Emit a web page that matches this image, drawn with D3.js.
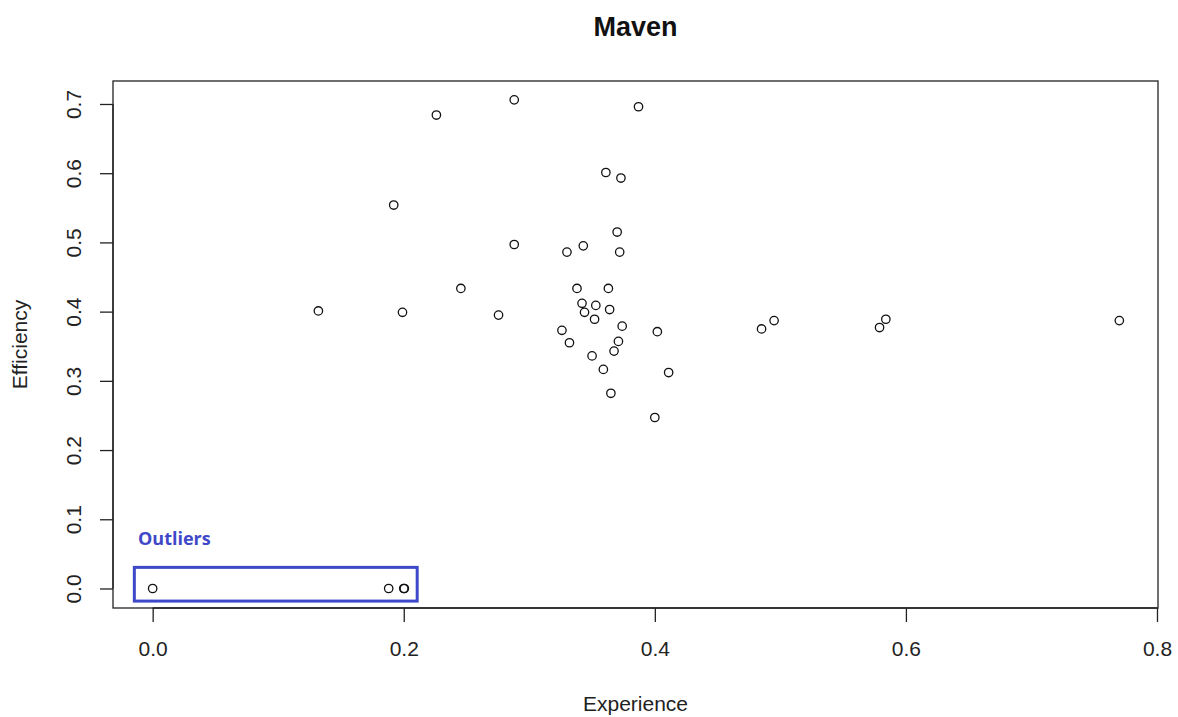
<!DOCTYPE html>
<html>
<head>
<meta charset="utf-8">
<script src="https://cdn.jsdelivr.net/npm/d3@7"></script>
<style>
  body { margin: 0; background: #fff; }
  svg { display: block; font-family: "Liberation Sans", Arial, sans-serif; }
</style>
</head>
<body>
<div id="chart"></div>
<script>
// experience (x) and efficiency (y) per developer
const experience = [0.000, 0.188, 0.200, 0.2005, 0.132, 0.199, 0.192, 0.226, 0.288, 0.387,
  0.361, 0.373, 0.370, 0.288, 0.330, 0.343, 0.372, 0.2455, 0.2755, 0.338,
  0.363, 0.342, 0.353, 0.344, 0.364, 0.352, 0.374, 0.326, 0.402, 0.332,
  0.371, 0.3675, 0.350, 0.359, 0.411, 0.365, 0.400, 0.485, 0.495, 0.579,
  0.584, 0.770];
const efficiency = [0.000, 0.000, 0.000, 0.000, 0.401, 0.399, 0.554, 0.684, 0.706, 0.696,
  0.601, 0.593, 0.515, 0.497, 0.486, 0.495, 0.486, 0.4335, 0.395, 0.4335,
  0.4335, 0.412, 0.409, 0.399, 0.403, 0.389, 0.379, 0.373, 0.371, 0.355,
  0.357, 0.343, 0.336, 0.3165, 0.312, 0.282, 0.247, 0.375, 0.387, 0.377,
  0.389, 0.387];
const xTicks = [0.0, 0.2, 0.4, 0.6, 0.8];
const yTicks = [0.0, 0.1, 0.2, 0.3, 0.4, 0.5, 0.6, 0.7];

const width = 1178, height = 717;
const box = { left: 113, right: 1158, top: 81, bottom: 608 };

const svg = d3.select("#chart").append("svg")
  .attr("width", width)
  .attr("height", height);

const x = d3.scaleLinear().domain([-0.0308, 0.8008]).range([box.left + 1, box.right]);
const y = d3.scaleLinear().domain([-0.0282, 0.7332]).range([box.bottom, box.top]);

const ink = "#222";

// plot frame
svg.append("rect")
  .attr("x", box.left).attr("y", box.top)
  .attr("width", box.right - box.left).attr("height", box.bottom - box.top)
  .attr("fill", "none").attr("stroke", ink).attr("stroke-width", 1.3);

// x axis
const xAxis = svg.append("g")
  .attr("transform", `translate(0,${box.bottom})`)
  .call(d3.axisBottom(x).tickValues(xTicks).tickFormat(d3.format(".1f")).tickSize(14).tickPadding(19));
xAxis.select(".domain").attr("d", `M${x(0)},0H${x(0.8)}`).attr("stroke", ink).attr("stroke-width", 1.3);
xAxis.selectAll(".tick line").attr("stroke", ink).attr("stroke-width", 1.3);
xAxis.selectAll(".tick text")
  .attr("font-family", "Liberation Sans, Arial, sans-serif")
  .attr("font-size", 21).attr("fill", ink);

// y axis, labels turned like R does
const yAxis = svg.append("g")
  .attr("transform", `translate(${box.left},0)`)
  .call(d3.axisLeft(y).tickValues(yTicks).tickFormat(d3.format(".1f")).tickSize(13));
yAxis.select(".domain").attr("d", `M0,${y(0)}V${y(0.7)}`).attr("stroke", ink).attr("stroke-width", 1.3);
yAxis.selectAll(".tick line").attr("stroke", ink).attr("stroke-width", 1.3);
yAxis.selectAll(".tick text")
  .attr("font-family", "Liberation Sans, Arial, sans-serif")
  .attr("font-size", 21).attr("fill", ink)
  .attr("x", 0).attr("dy", 0)
  .attr("text-anchor", "middle")
  .attr("transform", "translate(-32,0) rotate(-90)");

// points
svg.append("g").selectAll("circle")
  .data(d3.zip(experience, efficiency))
  .join("circle")
  .attr("cx", d => x(d[0]))
  .attr("cy", d => y(d[1]))
  .attr("r", 4.2)
  .attr("fill", "none")
  .attr("stroke", "#111")
  .attr("stroke-width", 1.3);

// outlier annotation
const blue = "#3f48c8";
svg.append("rect")
  .attr("x", x(-0.0146)).attr("y", y(0.0305))
  .attr("width", x(0.2107) - x(-0.0146))
  .attr("height", y(-0.0182) - y(0.0305))
  .attr("fill", "none").attr("stroke", blue).attr("stroke-width", 3);
svg.append("text")
  .attr("x", 138).attr("y", 545)
  .attr("font-family", "Open Sans, sans-serif")
  .attr("font-weight", "bold").attr("font-size", 18)
  .attr("fill", blue)
  .text("Outliers");

// titles
svg.append("text")
  .attr("x", (box.left + box.right) / 2).attr("y", 36)
  .attr("text-anchor", "middle")
  .attr("font-weight", "bold").attr("font-size", 27)
  .attr("fill", "#111")
  .text("Maven");
svg.append("text")
  .attr("x", (box.left + box.right) / 2).attr("y", 711)
  .attr("text-anchor", "middle")
  .attr("font-size", 21).attr("fill", ink)
  .text("Experience");
svg.append("text")
  .attr("transform", `translate(27,${(box.top + box.bottom) / 2}) rotate(-90)`)
  .attr("text-anchor", "middle")
  .attr("font-size", 21).attr("fill", ink)
  .text("Efficiency");
</script>
</body>
</html>
